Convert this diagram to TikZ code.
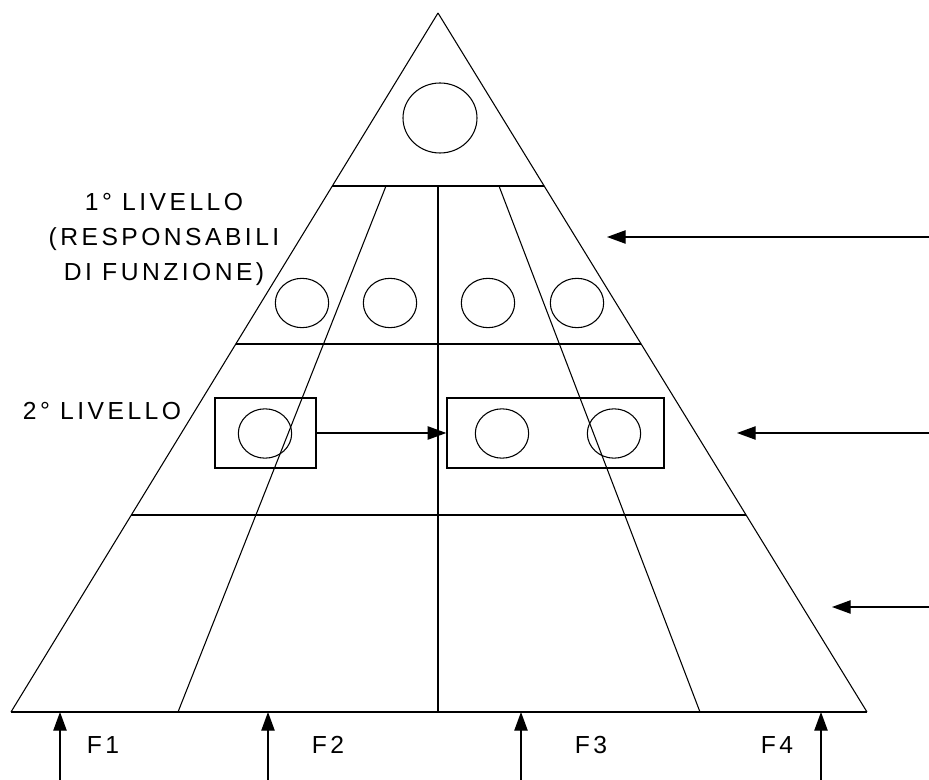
\documentclass[tikz,border=0pt]{standalone}
\usepackage{fontspec}
\setmainfont{Liberation Sans}
\newfontfamily\lvlfont{Liberation Sans}[LetterSpace=14]
\usetikzlibrary{arrows.meta,shapes.geometric}

\tikzset{
  unitcirc/.style={draw,ellipse,line width=0.8pt,inner sep=0pt,
                   minimum width=40pt,minimum height=37pt},
  groupbox/.style={draw,rectangle,line width=1pt,inner sep=0pt,
                   minimum height=52.5pt},
  lvltext/.style={font=\lvlfont\fontsize{18.5}{26.25}\selectfont,
                  align=center,inner sep=0pt},
  flow/.style={line width=1pt,-{Triangle[length=14pt,width=10pt]}}
}

\begin{document}
\begin{tikzpicture}[x=0.75pt,y=-0.75pt]
\useasboundingbox (0,0) rectangle (929,780);
% Pyramid outline
\coordinate (apex) at (438,13);
\coordinate (bl) at (11,712);
\coordinate (br) at (867,712);
\draw[line width=0.8pt] (apex) -- (bl);
\draw[line width=0.8pt] (apex) -- (br);
\draw[line width=1.3pt] (bl) -- (br);
% Levels
\draw[line width=1.1pt] (332,186) -- (544,186);
\draw[line width=1.1pt] (236,344) -- (641,344);
\draw[line width=1.1pt] (131,515) -- (746,515);
% Functions
\draw[line width=1pt] (438,186) -- (438,712);
\draw[line width=0.8pt] (386,186) -- (178,712);
\draw[line width=0.8pt] (499,186) -- (700,712);
% Top
\node[unitcirc,minimum width=55.5pt,minimum height=52.5pt] (top) at (440,118) {};
% 1st level
\node[unitcirc] (resp1) at (302,303) {};
\node[unitcirc] (resp2) at (390,303) {};
\node[unitcirc] (resp3) at (488,303) {};
\node[unitcirc] (resp4) at (577,303) {};
% 2nd level
\node[groupbox,minimum width=75.75pt] (boxa) at (265.5,433) {};
\node[groupbox,minimum width=162.75pt] (boxb) at (555.5,433) {};
\node[unitcirc] (sub1) at (265,433.5) {};
\node[unitcirc] (sub2) at (502,433.5) {};
\node[unitcirc] (sub3) at (614,433.5) {};
\draw[flow] (boxa.east) -- (boxb.west);
% Labels
\node[lvltext] (lvl1) at (164,239)
  {1° LIVELLO\\(RESPONSABILI\\DI FUNZIONE)};
\node[lvltext] (lvl2) at (102,411) {2° LIVELLO};
% Side arrows
\coordinate (in1) at (929,237);
\coordinate (to1) at (607,237);
\coordinate (in2) at (929,433);
\coordinate (to2) at (737,433);
\coordinate (in3) at (929,607);
\coordinate (to3) at (832,607);
\draw[flow] (in1) -- (to1);
\draw[flow] (in2) -- (to2);
\draw[flow] (in3) -- (to3);
% Bottom arrows
\coordinate (f1) at (60,712);
\coordinate (f2) at (268,712);
\coordinate (f3) at (521,712);
\coordinate (f4) at (821,712);
\draw[flow] (60,780) -- (f1);
\draw[flow] (268,780) -- (f2);
\draw[flow] (521,780) -- (f3);
\draw[flow] (821,780) -- (f4);
\node[lvltext] (n1) at (103,745) {F1};
\node[lvltext] (n2) at (328,745) {F2};
\node[lvltext] (n3) at (591,745) {F3};
\node[lvltext] (n4) at (777,745) {F4};
\end{tikzpicture}
\end{document}
